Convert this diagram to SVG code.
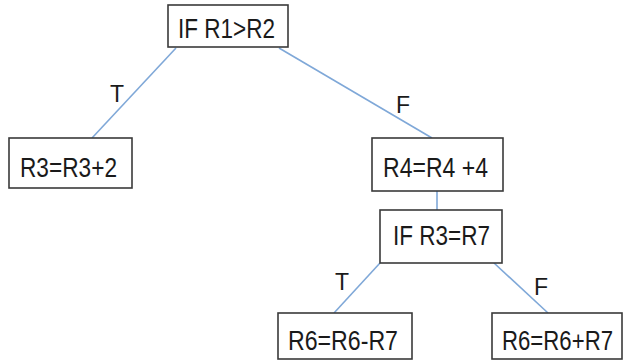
<svg xmlns="http://www.w3.org/2000/svg" width="626" height="361" viewBox="0 0 626 361">
  <style>
    .box { fill: #ffffff; stroke: #3a3a3a; stroke-width: 1.6; }
    .txt { font-family: "Liberation Sans", Arial, sans-serif; font-size: 27px; fill: #1a1a1a; }
    .lbl { font-family: "Liberation Sans", Arial, sans-serif; font-size: 23px; fill: #1a1a1a; text-anchor: middle; }
    .edge { stroke: #7fa8d8; stroke-width: 1.6; fill: none; }
  </style>
  <rect width="626" height="361" fill="#ffffff"/>

  <g id="connectors">
    <line class="edge" x1="176" y1="48" x2="92" y2="138"/>
    <line class="edge" x1="279" y1="48" x2="432" y2="138"/>
    <line class="edge" x1="437" y1="191" x2="437" y2="210"/>
    <line class="edge" x1="380" y1="263" x2="334" y2="313"/>
    <line class="edge" x1="494" y1="263" x2="548" y2="313"/>
    <text class="lbl" x="117" y="102">T</text>
    <text class="lbl" x="403" y="113">F</text>
    <text class="lbl" x="342" y="290">T</text>
    <text class="lbl" x="541" y="295">F</text>
  </g>

  <g id="n-if-r1-r2">
    <rect class="box" x="168" y="5" width="120" height="42"/>
    <text class="txt" x="178" y="38" textLength="97" lengthAdjust="spacingAndGlyphs">IF R1&gt;R2</text>
  </g>

  <g id="n-r3">
    <rect class="box" x="9" y="138" width="123" height="50"/>
    <text class="txt" x="20" y="177" textLength="97" lengthAdjust="spacingAndGlyphs">R3=R3+2</text>
  </g>

  <g id="n-r4">
    <rect class="box" x="372" y="138" width="131" height="53"/>
    <text class="txt" x="383" y="177" textLength="105" lengthAdjust="spacingAndGlyphs">R4=R4 +4</text>
  </g>

  <g id="n-if-r3-r7">
    <rect class="box" x="380" y="210" width="122" height="53"/>
    <text class="txt" x="393" y="245" textLength="97" lengthAdjust="spacingAndGlyphs">IF R3=R7</text>
  </g>

  <g id="n-r6-minus">
    <rect class="box" x="278" y="313" width="134" height="46"/>
    <text class="txt" x="288" y="350" textLength="110" lengthAdjust="spacingAndGlyphs">R6=R6-R7</text>
  </g>

  <g id="n-r6-plus">
    <rect class="box" x="492" y="313" width="130" height="46"/>
    <text class="txt" x="502" y="350" textLength="111" lengthAdjust="spacingAndGlyphs">R6=R6+R7</text>
  </g>
</svg>
